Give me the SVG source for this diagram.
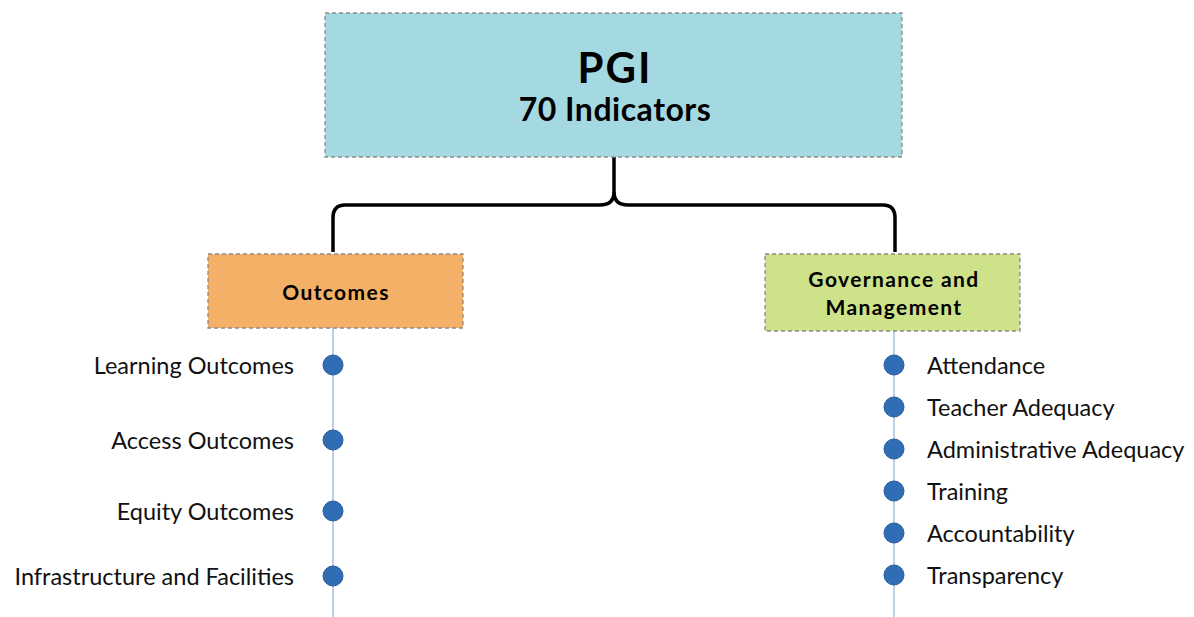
<svg xmlns="http://www.w3.org/2000/svg" width="1194" height="617" viewBox="0 0 1194 617">
<style>
.box{stroke:#8a8a8a;stroke-width:1.3;stroke-dasharray:4 3}
.t{font-family:Lato,"Open Sans","Liberation Sans",sans-serif;fill:#000}
.b{font-weight:bold}
.sm{font-size:21px;letter-spacing:1.4px}
.lab{font-family:Lato,"Open Sans","Liberation Sans",sans-serif;font-size:23.5px;fill:#111}
.dot{fill:#2f6eb5;stroke:#2a5d9a;stroke-width:1}
.vl{stroke:#8fb0e3;stroke-width:1.2;fill:none}
</style>
<rect width="1194" height="617" fill="#ffffff"/>
<g id="connectors">
<path d="M614,148 L614,192 Q614,205 600,205 L345,205 Q333,205 333,218 L333,252" fill="none" stroke="#000" stroke-width="3.5"/>
<path d="M614,192 Q614,205 628,205 L883,205 Q895,205 895,218 L895,252" fill="none" stroke="#000" stroke-width="3.5"/>
<line class="vl" x1="333" y1="328" x2="333" y2="617"/>
<line class="vl" x1="894" y1="331" x2="894" y2="617"/>
</g>
<g id="pgi">
<rect class="box" x="325" y="13" width="577" height="144" fill="#a5d9e2"/>
<text class="t b" x="615" y="83" font-size="42" letter-spacing="2" text-anchor="middle">PGI</text>
<text class="t b" x="615" y="121" font-size="32" letter-spacing="0.5" text-anchor="middle">70 Indicators</text>
</g>
<g id="outcomes">
<rect class="box" x="208" y="254" width="255" height="74" fill="#f4b066"/>
<text class="t b sm" x="336" y="300" text-anchor="middle">Outcomes</text>
</g>
<g id="governance">
<rect class="box" x="765" y="254" width="255" height="77" fill="#cde289"/>
<text class="t b sm" x="894" y="287" text-anchor="middle">Governance and</text>
<text class="t b sm" x="894" y="315" text-anchor="middle">Management</text>
</g>
<g id="outcome-items">
<circle class="dot" cx="333" cy="365" r="10"/>
<text class="lab" x="294" y="374" text-anchor="end">Learning Outcomes</text>
<circle class="dot" cx="333" cy="440" r="10"/>
<text class="lab" x="294" y="449" text-anchor="end">Access Outcomes</text>
<circle class="dot" cx="333" cy="511" r="10"/>
<text class="lab" x="294" y="520" text-anchor="end">Equity Outcomes</text>
<circle class="dot" cx="333" cy="576" r="10"/>
<text class="lab" x="294" y="585" text-anchor="end">Infrastructure and Facilities</text>
</g>
<g id="governance-items">
<circle class="dot" cx="894" cy="365" r="10"/>
<text class="lab" x="927" y="374">Attendance</text>
<circle class="dot" cx="894" cy="407" r="10"/>
<text class="lab" x="927" y="416">Teacher Adequacy</text>
<circle class="dot" cx="894" cy="449" r="10"/>
<text class="lab" x="927" y="458">Administrative Adequacy</text>
<circle class="dot" cx="894" cy="491" r="10"/>
<text class="lab" x="927" y="500">Training</text>
<circle class="dot" cx="894" cy="533" r="10"/>
<text class="lab" x="927" y="542">Accountability</text>
<circle class="dot" cx="894" cy="575" r="10"/>
<text class="lab" x="927" y="584">Transparency</text>
</g>
</svg>
